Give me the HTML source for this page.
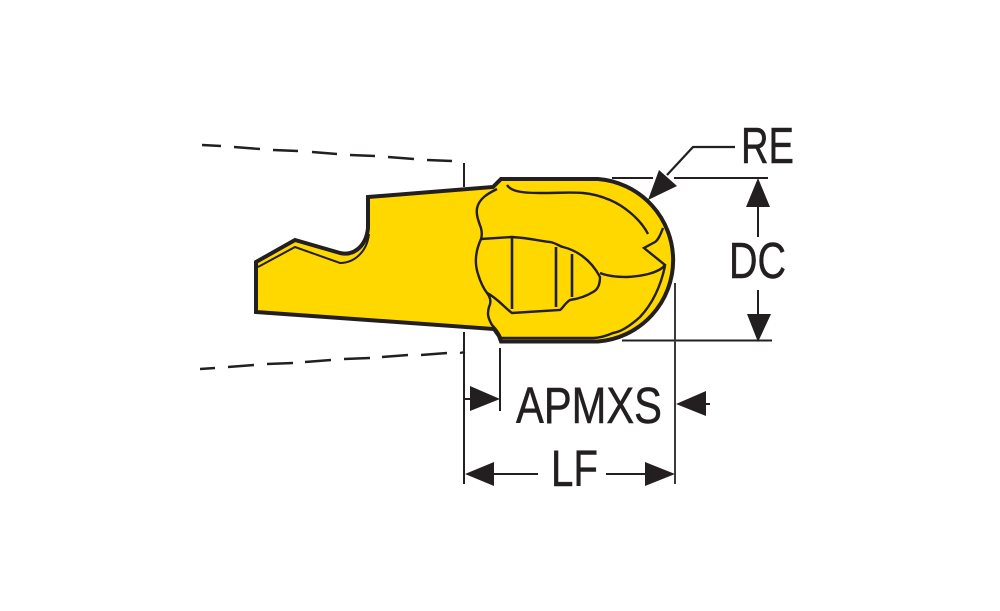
<!DOCTYPE html>
<html><head><meta charset="utf-8"><style>html,body{margin:0;padding:0;background:#fff}svg{display:block}text{font-family:"Liberation Sans",sans-serif;fill:#231f20;stroke:#231f20;stroke-width:.5px;font-size:51px}</style></head>
<body>
<svg width="1000" height="611" viewBox="0 0 1000 611" xmlns="http://www.w3.org/2000/svg">
<!-- dashed tool outline -->
<g fill="none" stroke="#231f20" stroke-width="2.4">
<path d="M202 145L221 146M234 147L260 149M273 150L298 151M312 152L337 154M350 155L375 156M388 157L414 159M427 160L452 161"/>
<path d="M200 369L215 368M228 367L254 365M267 364L293 363M305 362L331 360M344 359L370 358M382 357L408 355M421 355L447 353M460 353L465 352"/>
</g>
<g fill="none" stroke="#231f20" stroke-width="2">
<path d="M464 163V187M464 332V484"/>
<path d="M500 348V411"/>
<path d="M612 178H653M674 178H768"/>
<path d="M622 340.500H772"/>
<path d="M675 283V484" stroke="#3a3a3c"/>
</g>
<!-- insert -->
<path d="M256 262L295 240L340 253C352 256 366 248 368 228L368 197L493 187L501 179L598 179A81.500 81.500 0 0 1 598 341.500L501 341.500L499 336L494 329L256 312Z" fill="#ffd800" stroke="#231f20" stroke-width="4" stroke-linejoin="miter"/>
<g fill="none" stroke="#231f20" stroke-width="2.4">
<path d="M258 267L295 247L340 263C354 263 367 252 369 234" stroke-width="2"/>
<path d="M497 189C487 194 481 198 478 205C475 212 478 220 481 228C482 232 482 236 481 239C476 250 474 262 478 274C481 284 484 289 487 293C491 298 491 303 489 307C487 314 488 318 492 325C496 329 499 333 501 338"/>
<path d="M481 239L512 237C530 238 540 241 550 242C556 243 559 246 563 247C575 250 590 258 600 277C600 286 597 290 593 292C585 297 577 299 570 300C565 303 563 308 560 310L512 313C505 308 497 298 487 293"/>
<path d="M512 237V309M556 247V307M572 254V297" stroke-width="2.6"/>
<path d="M507 185C511 191 520 193 540 193C560 193 570 192 583 193C595 194 603 197 610 200C622 205 640 218 648 234"/>
<path d="M663 228C660 236 658 240 655 242L644 248L665 265C660 272 645 276 627 277C615 277 605 275 600 273"/>
<path d="M665 266C662 280 656 300 640 317C630 326 620 332 613 333C606 336 600 338 593 338L501 338"/>
</g>
<!-- RE leader -->
<path d="M735 147H693L667 175" fill="none" stroke="#231f20" stroke-width="2.2"/>
<path d="M648 200L659 170L677 186Z" fill="#231f20"/>
<!-- DC arrows -->
<path d="M758 205V237M758 290V315" fill="none" stroke="#231f20" stroke-width="2"/>
<path d="M758 178L770 207H746Z M758 342L747 314H771Z" fill="#231f20"/>
<!-- APMXS arrows -->
<path d="M465 399H475M700 404H710" fill="none" stroke="#231f20" stroke-width="2"/>
<path d="M500 399L470 386V411Z M676 404L706 391V416Z" fill="#231f20"/>
<!-- LF arrows -->
<path d="M490 474H538M606 474H650" fill="none" stroke="#231f20" stroke-width="2"/>
<path d="M465 474L494 462V486Z M675 474L645 462V486Z" fill="#231f20"/>
<text x="741" y="163" textLength="53" lengthAdjust="spacingAndGlyphs">RE</text>
<text x="729" y="278" textLength="57" lengthAdjust="spacingAndGlyphs">DC</text>
<text x="516" y="423" textLength="146" lengthAdjust="spacingAndGlyphs">APMXS</text>
<text x="551" y="486" textLength="47" lengthAdjust="spacingAndGlyphs">LF</text>
</svg>
</body></html>
